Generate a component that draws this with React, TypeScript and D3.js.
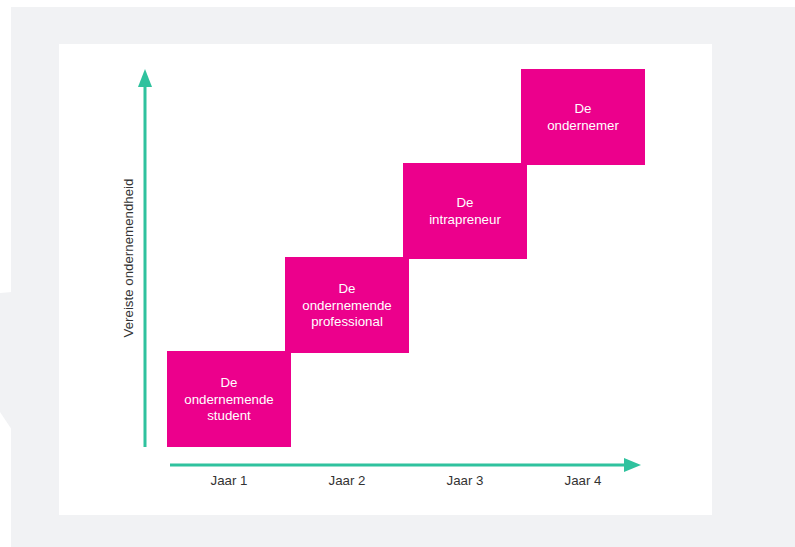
import React from "react";
import * as d3 from "d3";

const categories = ["Jaar 1", "Jaar 2", "Jaar 3", "Jaar 4"];
const levels = [1, 2, 3, 4];
const boxLabels = [
  ["De", "ondernemende", "student"],
  ["De", "ondernemende", "professional"],
  ["De", "intrapreneur"],
  ["De", "ondernemer"],
];
const yAxisLabel = "Vereiste ondernemendheid";

const W = 795;
const H = 547;
const MAGENTA = "#EC008C";
const GREEN = "#2FC29E";
const BG = "#F1F2F4";
const FONT = "'Liberation Sans', Arial, sans-serif";
const FS = 13.3;

export default function App() {
  const x = d3.scaleLinear().domain([0, 4]).range([167, 639]);
  const y = d3.scaleLinear().domain([0, 4]).range([445, 69]);
  const step = x(1) - x(0);
  const bw = step + 6;
  const bh = y(0) - y(1) + 2;
  const lineH = 16.5;

  return (
    <div style={{ position: "absolute", left: 0, top: 0 }}>
      <svg width={W} height={H} style={{ display: "block" }}>
        <rect x={0} y={0} width={W} height={H} fill="#ffffff" />
        <rect x={11} y={7} width={W - 11} height={H - 7} fill={BG} />
        <polygon points="0,293 12,292 12,430 0,412" fill={BG} />
        <rect x={59} y={44} width={653} height={471} fill="#ffffff" />

        {/* Y axis arrow */}
        <line x1={145} y1={86} x2={145} y2={447} stroke={GREEN} strokeWidth={3} />
        <polygon points="145,69 138,87 152,87" fill={GREEN} />
        <text
          transform={`translate(133,258) rotate(-90)`}
          textAnchor="middle"
          fontFamily={FONT}
          fontSize={FS}
          fill="#333333"
        >
          {yAxisLabel}
        </text>

        {/* X axis arrow */}
        <line x1={170} y1={465} x2={626} y2={465} stroke={GREEN} strokeWidth={3} />
        <polygon points="641,465 624,458 624,472" fill={GREEN} />

        {levels.map((lv, i) => {
          const bx = x(i);
          const by = y(lv);
          const cx = bx + bw / 2;
          const cy = by + bh / 2;
          const lines = boxLabels[i];
          const start = cy - ((lines.length - 1) * lineH) / 2;
          return (
            <g key={i}>
              <rect x={bx} y={by} width={bw} height={bh} fill={MAGENTA} />
              {lines.map((t, j) => (
                <text
                  key={j}
                  x={cx}
                  y={start + j * lineH}
                  dy="0.35em"
                  textAnchor="middle"
                  fontFamily={FONT}
                  fontSize={FS}
                  fill="#ffffff"
                >
                  {t}
                </text>
              ))}
            </g>
          );
        })}

        {categories.map((c, i) => (
          <text
            key={c}
            x={x(i) + bw / 2}
            y={480}
            dy="0.35em"
            textAnchor="middle"
            fontFamily={FONT}
            fontSize={FS}
            fill="#333333"
          >
            {c}
          </text>
        ))}
      </svg>
    </div>
  );
}
